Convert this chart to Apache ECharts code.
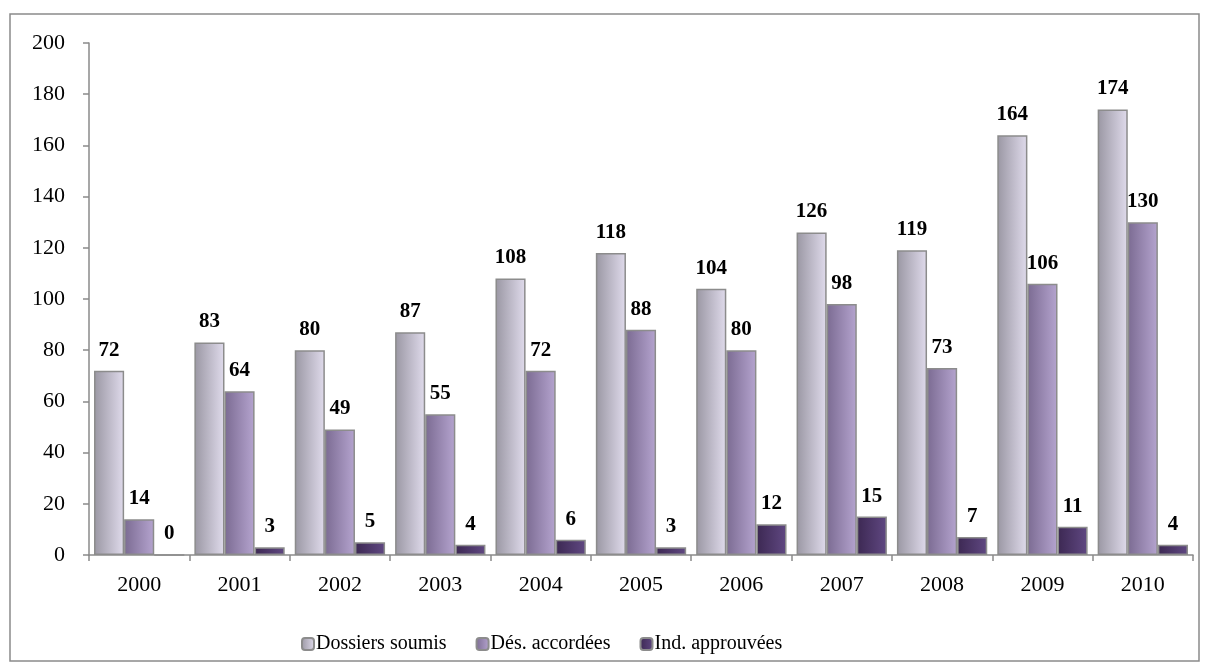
<!DOCTYPE html>
<html><head><meta charset="utf-8">
<script src="https://cdn.jsdelivr.net/npm/echarts@6/dist/echarts.min.js"></script>
<style>html,body{margin:0;padding:0;background:#fff;}#c{width:1209px;height:671px;}</style>
</head><body><div id="c"></div>
<script>
const categories = ['2000','2001','2002','2003','2004','2005','2006','2007','2008','2009','2010'];
const dossiersSoumis = [72,83,80,87,108,118,104,126,119,164,174];
const desAccordees = [14,64,49,55,72,88,80,98,73,106,130];
const indApprouvees = [0,3,5,4,6,3,12,15,7,11,4];
const seriesNames = ['Dossiers soumis','Dés. accordées','Ind. approuvées'];

const FONT = '"Liberation Serif", "Times New Roman", serif';
function grad(a,b){return new echarts.graphic.LinearGradient(0,0,1,0,[{offset:0,color:a},{offset:1,color:b}]);}
const colors = [grad('#9a97a3','#e0dbec'), grad('#7b6b92','#b5a4cf'), grad('#3c2852','#604882')];

function mk(name, data, color){
  return {
    name, type:'bar', data, barGap:'0%', barCategoryGap:'10%',
    itemStyle:{color, borderColor:'#8c8c8c', borderWidth:1.5},
    label:{show:true, position:'top', distance:10, color:'#000', fontFamily:FONT, fontWeight:'bold', fontSize:21},
    emphasis:{disabled:true}
  };
}
const chart = echarts.init(document.getElementById('c'));
chart.setOption({
  animation:false,
  graphic:[{type:'rect', shape:{x:10,y:14,width:1189,height:647}, style:{fill:'none', stroke:'#8a8a8a', lineWidth:1.5}, silent:true}],
  grid:{left:89, right:16, top:43, bottom:116},
  legend:{
    top:629, left:296, itemWidth:12, itemHeight:12, itemGap:29,
    textStyle:{fontFamily:FONT, fontSize:20, color:'#000', padding:[0,0,0,-3]},
    data:seriesNames
  },
  xAxis:{
    type:'category', data:categories,
    axisLine:{lineStyle:{color:'#8a8a8a', width:1.5}},
    axisTick:{show:true, length:6, alignWithLabel:false, lineStyle:{color:'#8a8a8a', width:1.5}},
    axisLabel:{fontFamily:FONT, fontSize:22, color:'#000', margin:19}
  },
  yAxis:{
    type:'value', min:0, max:200, interval:20,
    splitLine:{show:false},
    axisLine:{show:true, lineStyle:{color:'#8a8a8a', width:1.5}},
    axisTick:{show:true, length:6, lineStyle:{color:'#8a8a8a', width:1.5}},
    axisLabel:{fontFamily:FONT, fontSize:22, color:'#000', margin:24}
  },
  series:[mk(seriesNames[0], dossiersSoumis, colors[0]), mk(seriesNames[1], desAccordees, colors[1]), mk(seriesNames[2], indApprouvees, colors[2])]
});
</script></body></html>
